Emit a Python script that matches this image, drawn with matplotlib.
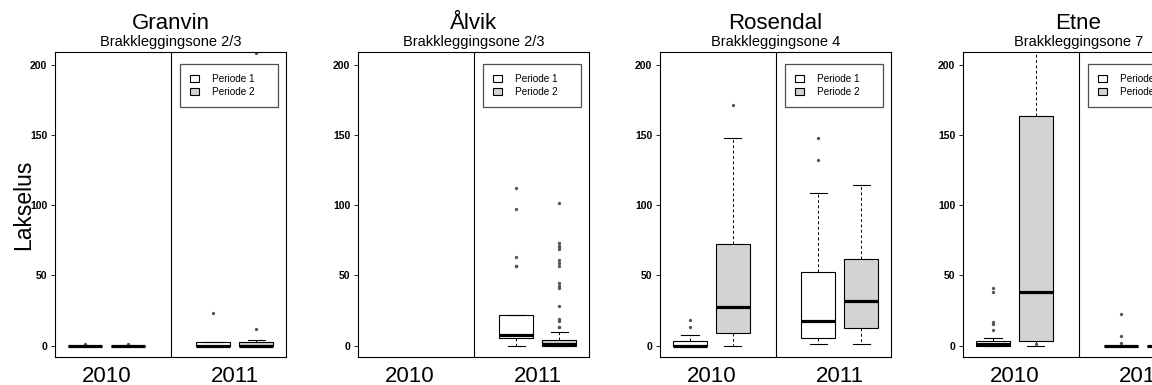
import matplotlib
matplotlib.use("Agg")
from matplotlib import pyplot as plt
from matplotlib.patches import Patch

plt.rcParams['font.family'] = ['Liberation Sans', 'DejaVu Sans']

sites = ["Granvin", "Ålvik", "Rosendal", "Etne"]
zones = ["Brakkleggingsone 2/3", "Brakkleggingsone 2/3", "Brakkleggingsone 4", "Brakkleggingsone 7"]
years = ["2010", "2011"]
periods = ["Periode 1", "Periode 2"]
period_colors = ["white", "#D3D3D3"]
yticks = [0, 50, 100, 150, 200]

# order of boxes in each panel: 2010 P1, 2010 P2, 2011 P1, 2011 P2 (None = no data)
granvin_med = [0, 0, 0, 0]
granvin_q1 = [0, 0, 0, 0]
granvin_q3 = [0, 0, 3, 3]
granvin_lo = [0, 0, 0, 0]
granvin_hi = [0, 0, 3, 3.8]
granvin_out = [[1.2], [1.2], [23], [12, 208]]

alvik_med = [None, None, 8, 1]
alvik_q1 = [None, None, 5.5, 0]
alvik_q3 = [None, None, 22, 3.8]
alvik_lo = [None, None, 0, 0]
alvik_hi = [None, None, 22, 9.7]
alvik_out = [[], [], [112, 97.4, 62.8, 57, 56.4],
             [101.5, 73, 71, 70, 68.8, 61, 58.8, 56.4, 44.6, 42.7, 40.8,
              28.4, 19, 17.3, 13.7, 13.2]]

rosendal_med = [0, 27.3, 17.8, 32]
rosendal_q1 = [0, 9, 5.7, 12.6]
rosendal_q3 = [3.3, 72.3, 52.8, 61.8]
rosendal_lo = [0, 0, 1.4, 1.4]
rosendal_hi = [7.8, 147.6, 108.5, 114.2]
rosendal_out = [[13, 18.5], [171], [148, 132], []]

etne_med = [1, 37.9, 0, 0]
etne_q1 = [0, 3.3, 0, 0]
etne_q3 = [3.5, 163.3, 0, 0]
etne_lo = [0, 0, 0, 0]
etne_hi = [5.2, 260, 0, 0]
etne_out = [[41, 38.2, 16.8, 15.4, 10.9], [1], [22.5, 7.1, 1.9], []]

site_data = [
    (granvin_med, granvin_q1, granvin_q3, granvin_lo, granvin_hi, granvin_out),
    (alvik_med, alvik_q1, alvik_q3, alvik_lo, alvik_hi, alvik_out),
    (rosendal_med, rosendal_q1, rosendal_q3, rosendal_lo, rosendal_hi, rosendal_out),
    (etne_med, etne_q1, etne_q3, etne_lo, etne_hi, etne_out),
]

positions = [1, 2, 4, 5]
W, H = 1152, 385
lefts = [55, 358, 660, 963]

fig = plt.figure(figsize=(W / 100, H / 100), dpi=100)

for k in range(4):
    ax = fig.add_axes([lefts[k] / W, 28 / H, 231 / W, 305 / H])
    med, q1, q3, lo, hi, out = site_data[k]
    for i in range(4):
        if med[i] is None:
            continue
        st = {'med': med[i], 'q1': q1[i], 'q3': q3[i],
              'whislo': lo[i], 'whishi': hi[i], 'fliers': out[i]}
        ax.bxp([st], positions=[positions[i]], widths=0.8, patch_artist=True,
               capwidths=0.4, showfliers=True,
               boxprops=dict(facecolor=period_colors[i % 2], edgecolor='black', linewidth=0.8),
               medianprops=dict(color='black', linewidth=2.3, solid_capstyle='butt'),
               whiskerprops=dict(color='black', linewidth=0.7, linestyle=(0, (3, 2.5))),
               capprops=dict(color='black', linewidth=0.8),
               flierprops=dict(marker='o', markersize=2.4, markerfacecolor='#555555',
                               markeredgecolor='none'))

    ax.axvline(3, color='black', lw=0.8)
    ax.set_xlim(0.3, 5.7)
    ax.set_ylim(-8, 209)
    ax.set_xticks([])
    ax.set_yticks(yticks)
    ax.set_yticklabels([str(t) for t in yticks], fontsize=7.5, fontweight='bold')
    ax.tick_params(axis='y', direction='out', length=3, width=0.6, pad=2.5)
    for sp in ax.spines.values():
        sp.set_linewidth(0.8)
        sp.set_color('black')

    ax.text(0.5, 1.075, sites[k], transform=ax.transAxes, ha='center', va='baseline', fontsize=16)
    ax.text(0.5, 1.02, zones[k], transform=ax.transAxes, ha='center', va='baseline', fontsize=10.5)
    tr = ax.get_xaxis_transform()
    ax.text(1.5, -0.081, years[0], transform=tr, ha='center', va='baseline', fontsize=16)
    ax.text(4.5, -0.081, years[1], transform=tr, ha='center', va='baseline', fontsize=16)

    handles = [Patch(facecolor=period_colors[j], edgecolor='black', linewidth=0.8) for j in range(2)]
    leg = ax.legend(handles, periods, loc='upper left', bbox_to_anchor=(0.541, 0.961, 0.424, 0.0),
                    mode='expand', fontsize=7.2, frameon=True, fancybox=False, borderpad=1.0,
                    handlelength=0.9, handleheight=0.75, handletextpad=1.3, labelspacing=0.3,
                    borderaxespad=0)
    leg.get_frame().set_edgecolor('#222222')
    leg.get_frame().set_linewidth(0.9)

fig.text(24 / W, 1 - 205 / H, "Lakselus", rotation=90, ha='center', va='center', fontsize=16.5)

fig.savefig("out.png", dpi=100)
